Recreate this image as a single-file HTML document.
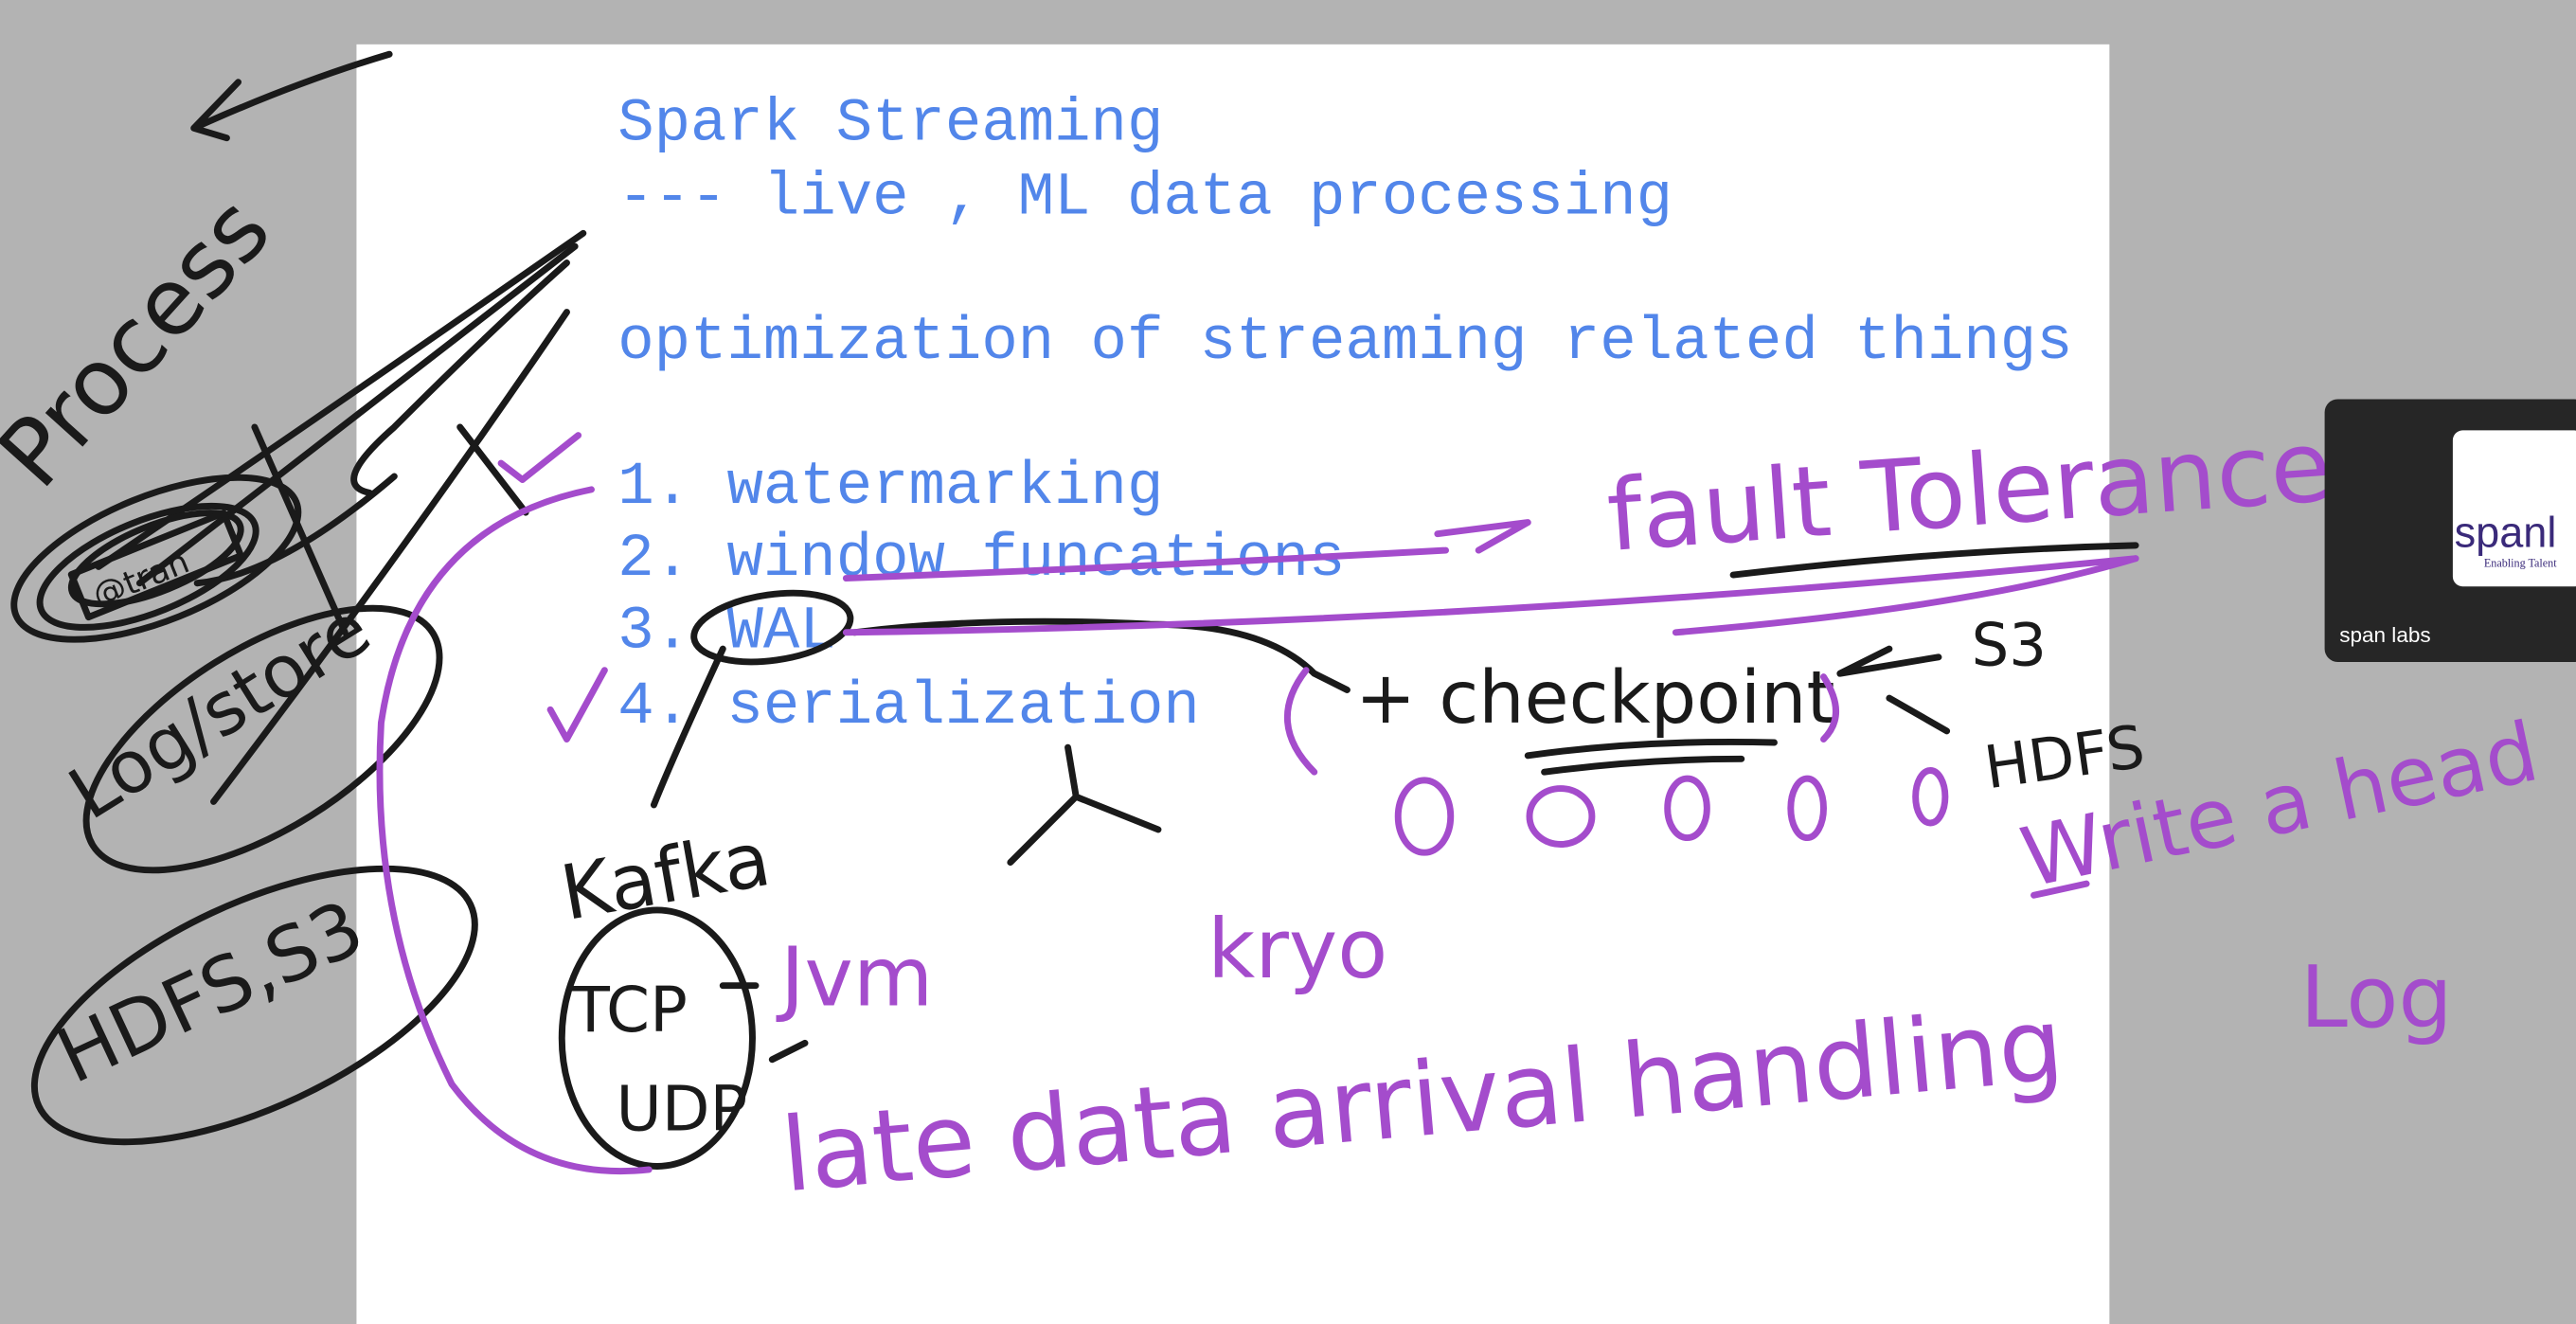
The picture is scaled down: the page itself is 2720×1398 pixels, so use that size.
<!DOCTYPE html>
<html><head><meta charset="utf-8"><style>
html,body{margin:0;padding:0;background:#b3b3b3;}
svg{display:block;}
</style></head><body>
<svg width="2720" height="1398" viewBox="0 0 1568 806" preserveAspectRatio="none" xmlns="http://www.w3.org/2000/svg">
<rect x="0" y="0" width="1568" height="806" fill="#b3b3b3"/>
<rect x="217" y="27" width="1067" height="779" fill="#ffffff"/>
<g font-family="Liberation Mono, monospace" font-size="36.9" fill="#5286ea">
<text x="376" y="85">Spark Streaming</text>
<text x="376" y="130">--- live , ML data processing</text>
<text x="376" y="218">optimization of streaming related things</text>
<text x="376" y="306">1. watermarking</text>
<text x="376" y="350">2. window funcations</text>
<text x="376" y="394">3. WAL</text>
<text x="376" y="440">4. serialization</text>
</g>

<g fill="none" stroke="#1a1a1a" stroke-width="4" stroke-linecap="round" stroke-linejoin="round">
<path d="M237,33 Q180,50 118,78 M118,78 L145,50 M118,78 L138,84"/>
<path d="M130,488 Q250,330 345,190"/>
<path d="M60,345 Q200,250 355,142"/>
<path d="M85,355 Q220,250 350,150"/>
<path d="M225,300 Q200,295 240,260 Q300,200 345,160"/>
<path d="M280,260 L320,312"/>
<path d="M240,290 Q170,350 120,355"/>
<ellipse cx="95" cy="340" rx="92" ry="38" transform="rotate(-22 95 340)"/>
<ellipse cx="90" cy="345" rx="70" ry="28" transform="rotate(-22 90 345)"/>
<ellipse cx="95" cy="340" rx="55" ry="20" transform="rotate(-22 95 340)"/>
<rect x="45" y="330" width="100" height="28" transform="rotate(-22 95 344)"/>
<path d="M155,260 L210,385"/>
<ellipse cx="160" cy="450" rx="122" ry="55" transform="rotate(-32 160 450)"/>
<ellipse cx="155" cy="612" rx="145" ry="62" transform="rotate(-25 155 612)"/>
<ellipse cx="470" cy="382" rx="48" ry="20" transform="rotate(-8 470 382)"/>
<path d="M440,395 Q410,460 398,490"/>
<path d="M520,385 Q600,375 700,380 Q770,380 800,410 L820,420"/>
<path d="M930,460 Q1000,450 1080,452 M940,470 Q1000,462 1060,462"/>
<path d="M1055,350 Q1180,335 1300,332"/>
<path d="M1150,395 L1120,410 L1180,400 M1150,425 L1185,445"/>
<path d="M650,455 L655,485 L615,525 M655,485 L705,505"/>
<ellipse cx="400" cy="632" rx="58" ry="78"/>
<path d="M440,600 L460,600 M470,645 L490,635"/>
</g>
<g font-family="DejaVu Sans, sans-serif" fill="#1a1a1a">
<text x="25" y="300" font-size="56" transform="rotate(-48 25 300)">Process</text>
<text x="55" y="500" font-size="44" transform="rotate(-32 55 500)">Log/store</text>
<text x="45" y="660" font-size="46" transform="rotate(-25 45 660)">HDFS,S3</text>
<text x="60" y="370" font-size="20" transform="rotate(-22 60 370)">@tran</text>
<text x="345" y="560" font-size="46" transform="rotate(-10 345 560)">Kafka</text>
<text x="348" y="628" font-size="38">TCP</text>
<text x="375" y="688" font-size="38">UDP</text>
<text x="825" y="440" font-size="44">+ checkpoint</text>
<text x="1200" y="405" font-size="36">S3</text>
<text x="1210" y="480" font-size="36" transform="rotate(-8 1210 480)">HDFS</text>
</g>
<g fill="none" stroke="#a44ccc" stroke-width="4" stroke-linecap="round" stroke-linejoin="round">
<path d="M360,298 Q250,320 232,440 Q225,560 275,660 Q320,720 395,712"/>
<path d="M305,282 L318,292 L352,265"/>
<path d="M335,432 L345,450 L368,408"/>
<path d="M515,352 Q700,345 880,335 M875,325 L930,318 L900,335"/>
<path d="M515,385 Q900,380 1300,340"/>
<path d="M1020,385 Q1200,370 1300,340"/>
<path d="M795,408 Q770,440 800,470"/>
<path d="M1110,412 Q1125,435 1110,450"/>
<ellipse cx="867" cy="497" rx="16" ry="22"/>
<ellipse cx="950" cy="497" rx="19" ry="17"/>
<ellipse cx="1027" cy="492" rx="12" ry="18"/>
<ellipse cx="1100" cy="492" rx="10" ry="18"/>
<ellipse cx="1175" cy="485" rx="9" ry="16"/>
<path d="M1238,545 L1270,538"/>
</g>
<g font-family="DejaVu Sans, sans-serif" fill="#a44ccc">
<text x="980" y="335" font-size="60" transform="rotate(-4 980 335)">fault Tolerance</text>
<text x="1235" y="540" font-size="50" transform="rotate(-12 1235 540)">Write a head</text>
<text x="1400" y="625" font-size="52">Log</text>
<text x="475" y="612" font-size="50">Jvm</text>
<text x="735" y="595" font-size="50">kryo</text>
<text x="478" y="725" font-size="62" transform="rotate(-5 478 725)">late data arrival handling</text>
</g>
<!-- video tile on top -->
<rect x="1415" y="243" width="160" height="160" rx="8" fill="#262626"/>
<rect x="1493" y="262" width="80" height="95" rx="6" fill="#ffffff"/>
<text x="1494" y="333" font-family="Liberation Sans, sans-serif" font-size="26" fill="#3a2a7a">spanl</text>
<text x="1512" y="345" font-family="Liberation Serif, serif" font-size="7" fill="#3a2a7a">Enabling Talent</text>
<text x="1424" y="391" font-family="Liberation Sans, sans-serif" font-size="13" fill="#ffffff">span labs</text>
</svg>
</body></html>
